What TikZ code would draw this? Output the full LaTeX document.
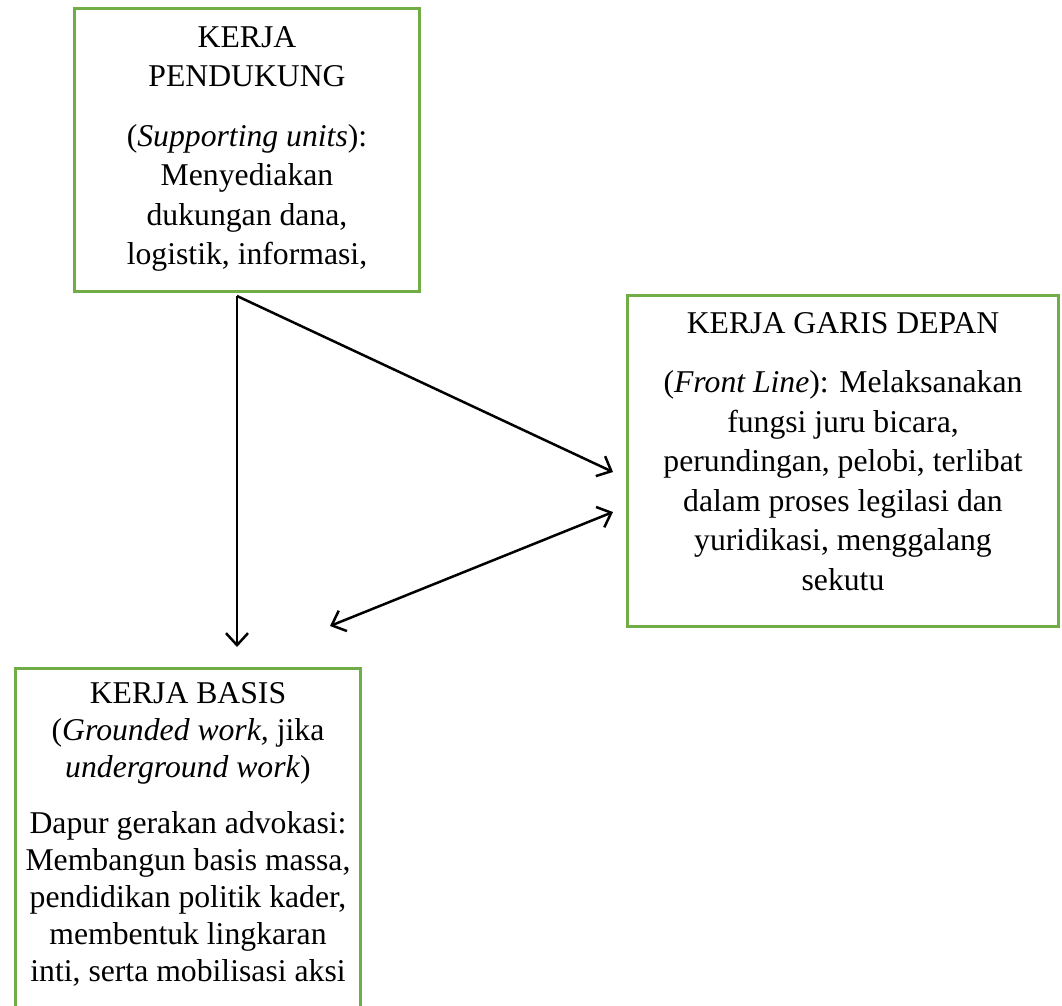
\documentclass[tikz,border=0pt]{standalone}
\usepackage{fontspec}
\setmainfont{Liberation Serif}
\usepackage{xcolor}
\usetikzlibrary{arrows.meta,calc}
\definecolor{boxgreen}{HTML}{70AD47}

\begin{document}
\begin{tikzpicture}%
  [x=1pt,y=-1pt]
  \tikzstyle{box node}=[rectangle,draw=boxgreen,line width=3pt,anchor=north west,inner sep=0]
  \tikzstyle{txt node}=[align=center,inner sep=0,anchor=north,font=\fontsize{31.7pt}{39.5pt}\selectfont]
  \tikzstyle{arr}=[line width=2.5pt,-{Straight Barb[length=12pt,width=22pt]}]
  \useasboundingbox (0,0) rectangle (1062,1005);
  \clip (0,0) rectangle (1062,1005);
  % the three boxes
  \node(pendukung)[box node,minimum width=345pt,minimum height=283pt] at (73,7){};
  \node(depan)[box node,minimum width=431pt,minimum height=331pt] at (626,294){};
  \node(basis)[box node,minimum width=345pt,minimum height=360pt] at (14,667){};
  % their texts
  \node(pendukung text)[txt node] at ($(pendukung.north)+(0,19)$)
    {KERJA\\PENDUKUNG\\[20pt](\textit{Supporting units}):\\Menyediakan\\dukungan dana,\\logistik, informasi,};
  \node(depan text)[txt node] at ($(depan.north)+(0,18)$)
    {KERJA GARIS DEPAN\\[20pt](\textit{Front Line}): Melaksanakan\\fungsi juru bicara,\\perundingan, pelobi, terlibat\\dalam proses legilasi dan\\yuridikasi, menggalang\\sekutu};
  \node(basis text)[txt node,font=\fontsize{31.7pt}{37pt}\selectfont] at ($(basis.north)+(0,15)$)
    {KERJA BASIS\\(\textit{Grounded work,} jika\\\textit{underground work})\\[19pt]Dapur gerakan advokasi:\\Membangun basis massa,\\pendidikan politik kader,\\membentuk lingkaran\\inti, serta mobilisasi aksi};
  % arrow ends
  \coordinate(split) at ($(pendukung.south west)+(164,3)$);
  \coordinate(basis in) at ($(basis.north west)+(223,-20)$);
  \coordinate(basis out) at ($(basis.north west)+(316,-41)$);
  \coordinate(depan in) at ($(depan.north west)+(-13,178)$);
  \coordinate(depan out) at ($(depan.north west)+(-13,218)$);
  \draw[arr] (split) -- (basis in);
  \draw[arr] (split) -- (depan in);
  \draw[arr,{Straight Barb[length=12pt,width=22pt]}-{Straight Barb[length=12pt,width=22pt]}] (basis out) -- (depan out);
\end{tikzpicture}
\end{document}
